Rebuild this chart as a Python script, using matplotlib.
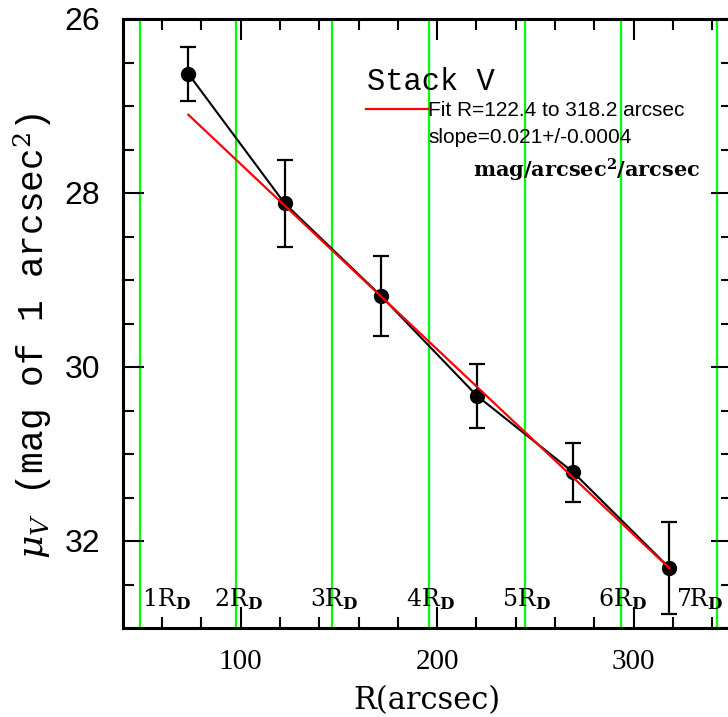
import numpy as np
import matplotlib
matplotlib.use("Agg")
import matplotlib.pyplot as plt
from matplotlib.ticker import MultipleLocator

plt.rcParams['mathtext.fontset'] = 'dejavuserif'

# profile points (R in arcsec, surface brightness in mag)
r_arcsec = [73.4, 122.4, 171.3, 220.2, 269.2, 318.2]
mu_v = [26.63, 28.12, 29.18, 30.33, 31.21, 32.31]
mu_err = [0.31, 0.50, 0.46, 0.37, 0.34, 0.53]

# linear fit
fit_r0, fit_r1 = 122.4, 318.2
fit_slope = 0.0213
fit_intercept = 25.537
fit_draw = [73.4, 318.2]

# disc scale length
rd = 48.9
rd_multiples = [1, 2, 3, 4, 5, 6, 7]
rd_label_shift = [1.0, -11.5, -11.5, -11.5, -11.5, -11.5, -21]

fig = plt.figure(figsize=(7.28, 7.17), dpi=100)
ax = fig.add_axes([122.7/728, 89/717, 609.3/728, 609/717])

for n in rd_multiples:
    ax.axvline(n*rd, color='#00ff00', lw=1.6, zorder=1)

ax.plot(r_arcsec, mu_v, color='black', lw=1.5, zorder=3)
ax.errorbar(r_arcsec, mu_v, yerr=mu_err, fmt='o', color='black', ms=10,
            elinewidth=1.6, capsize=6, capthick=1.6, zorder=4)

fx = np.array(fit_draw)
fit_line, = ax.plot(fx, fit_intercept + fit_slope*fx, color='red', lw=1.6,
                    zorder=5)

for n, dx in zip(rd_multiples, rd_label_shift):
    ax.text(n*rd + dx, 32.67, f"{n}R$_\\mathbf{{D}}$", fontsize=17,
            family='DejaVu Serif', va='center', ha='left', zorder=6)

ax.set_xlim(40, 350)
ax.set_ylim(33, 26)
ax.xaxis.set_major_locator(MultipleLocator(100))
ax.xaxis.set_minor_locator(MultipleLocator(20))
ax.yaxis.set_major_locator(MultipleLocator(2))
ax.yaxis.set_minor_locator(MultipleLocator(0.5))
ax.tick_params(which='both', direction='in', top=True, right=True, width=1.5)
ax.tick_params(which='major', length=15)
ax.tick_params(which='minor', length=8)
ax.tick_params(axis='x', which='major', pad=15)
ax.tick_params(axis='y', which='major', pad=16)
for s in ax.spines.values():
    s.set_linewidth(2.2)

for lab in ax.get_xticklabels():
    lab.set_family('Liberation Serif')
    lab.set_fontsize(21)
for lab in ax.get_yticklabels():
    lab.set_family('Liberation Sans')
    lab.set_fontsize(23)

ax.set_xlabel("R(arcsec)", fontsize=22, family='DejaVu Serif', labelpad=7)
ax.set_ylabel("$\\mu_V$ (mag of 1 arcsec$^2$)", fontsize=26,
              family='Liberation Mono')
ax.yaxis.set_label_coords(-0.112, 0.48)

ax.text(0.401, 0.896, "Stack V", transform=ax.transAxes, fontsize=22,
        family='Liberation Mono', va='center', ha='left')
ax.legend([fit_line], [f"Fit R={fit_r0} to {fit_r1} arcsec"],
          loc='center left', bbox_to_anchor=(0.385, 0.849), frameon=False,
          handlelength=3.0, handletextpad=0.0, borderaxespad=0,
          prop={'family': 'Liberation Sans', 'size': 15})
ax.text(0.501, 0.805, "slope=0.021+/-0.0004", transform=ax.transAxes,
        fontsize=15, family='Liberation Sans', va='center', ha='left')
ax.text(0.575, 0.752, "mag/arcsec$^\\mathbf{2}$/arcsec", transform=ax.transAxes,
        fontsize=15, family='DejaVu Serif', weight='bold', va='center',
        ha='left')

fig.savefig("out.png", dpi=100)
